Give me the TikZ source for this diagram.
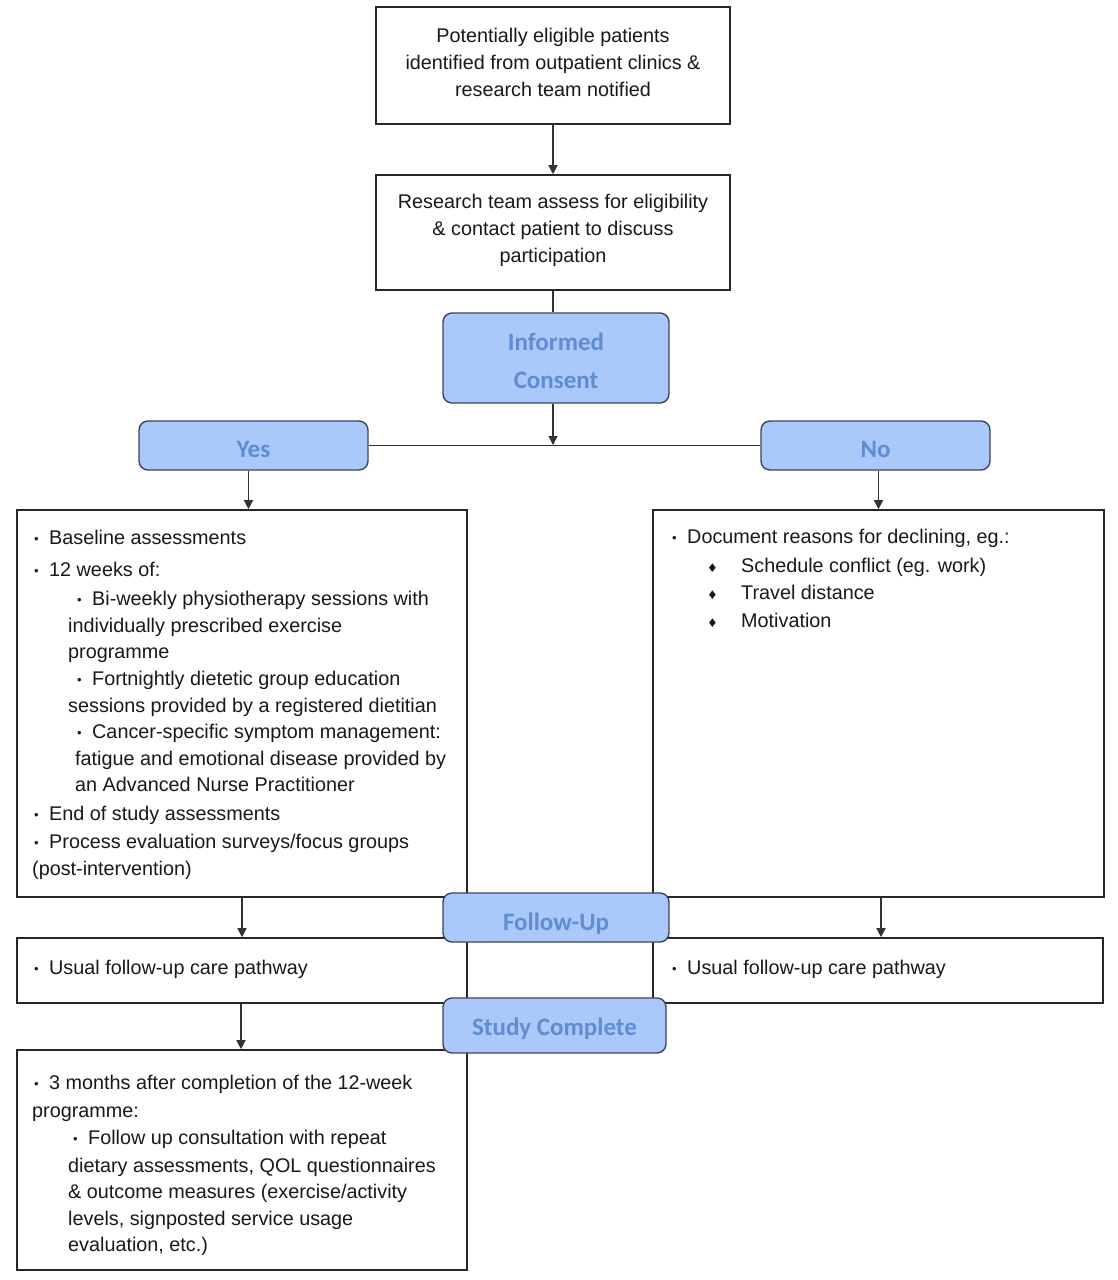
\documentclass[tikz,border=0pt]{standalone}
\usepackage{fontspec}
\setmainfont{Liberation Sans}
\newfontfamily\calfont{Carlito}
\newfontfamily\djfont{DejaVu Sans}
\usetikzlibrary{arrows.meta}
\definecolor{pillfill}{RGB}{170,200,250}
\definecolor{pilltext}{RGB}{95,140,210}
\definecolor{pillborder}{RGB}{60,70,90}
\definecolor{txtcol}{RGB}{25,25,25}
\newcommand\mybul{\makebox[15pt][l]{\fontsize{13}{13}\selectfont\raisebox{0.5pt}{•}}}
\newcommand\mydia{{\djfont\fontsize{12}{12}\selectfont ♦}}
\newcommand\pl[2][4pt]{\raisebox{-#1}[\height][\depth]{\begin{tabular}{@{}c@{}}#2\end{tabular}}}
\begin{document}
\begin{tikzpicture}[x=1pt,y=-1pt,
 box/.style={draw=black!85, line width=1.6pt, inner sep=0, fill=white},
 pill/.style={draw=pillborder, line width=1.4pt, fill=pillfill, rounded corners=9pt, inner sep=0, text=pilltext, font=\calfont\bfseries\fontsize{25}{38}\selectfont},
 txt/.style={anchor=base west, inner sep=0, font=\fontsize{19.8}{27}\selectfont, text=txtcol},
 ctxt/.style={inner sep=0, align=center, font=\fontsize{19.8}{27}\selectfont, text=txtcol},
 arr/.style={draw=black!80, line width=1.4pt, -{Triangle[width=9pt,length=9pt]}},
 ln/.style={draw=black!80, line width=1.4pt},
]
\path[use as bounding box, fill=white] (0,0) rectangle (1117,1280);

% boxes
\node[box, minimum width=354pt, minimum height=117pt] (b1) at (553,65.5) {};
\node[box, minimum width=354pt, minimum height=115pt] (b2) at (553,232.5) {};
\node[box, minimum width=450pt, minimum height=387pt] (left) at (242,703.5) {};
\node[box, minimum width=451pt, minimum height=387pt] (right) at (878.5,703.5) {};
\node[box, minimum width=450pt, minimum height=65pt] (uleft) at (242,970.5) {};
\node[box, minimum width=450pt, minimum height=65pt] (uright) at (878,970.5) {};
\node[box, minimum width=450pt, minimum height=220pt] (bottom) at (242,1160) {};

% pills
\node[pill, minimum width=226pt, minimum height=90pt] (ic) at (556,358) {\pl{Informed\\Consent}};
\node[pill, minimum width=229pt, minimum height=49pt] (yes) at (253.5,445.5) {\pl{Yes}};
\node[pill, minimum width=229pt, minimum height=49pt] (no) at (875.5,445.5) {\pl{No}};
\node[pill, minimum width=226pt, minimum height=49pt] (fu) at (556,917.5) {\pl[5pt]{Follow-Up}};
\node[pill, minimum width=223pt, minimum height=55pt] (sc) at (554.5,1025.5) {\pl[2.5pt]{Study Complete}};

% connectors
\coordinate (join) at (553,445);
\draw[arr] (b1.south) -- (b2.north);
\draw[ln] (b2.south) -- (b2.south |- ic.north);
\draw[arr] (ic.south -| b2.south) -- (join);
\draw[ln] (yes.east) -- (no.west);
\draw[arr] ([xshift=-5pt]yes.south) -- ([xshift=-5pt]yes.south |- left.north);
\draw[arr] ([xshift=3pt]no.south) -- ([xshift=3pt]no.south |- right.north);
\draw[arr] (left.south) -- (uleft.north);
\draw[arr] ([xshift=2.5pt]right.south) -- ([xshift=2.5pt]right.south |- uright.north);
\draw[arr] ([xshift=-1pt]uleft.south) -- ([xshift=-1pt]uleft.south |- bottom.north);

% texts
\node[ctxt] (t1) at (553,62) {Potentially eligible patients\\identified from outpatient clinics \&\\research team notified};
\node[ctxt] (t2) at (553,230) {Research team assess for eligibility\\\& contact patient to discuss\\participation};

\node[txt] (l1) at (34,544) {\mybul Baseline assessments};
\node[txt] (l2) at (34,576) {\mybul 12 weeks of:};
\node[txt] (l3) at (77,605) {\mybul Bi-weekly physiotherapy sessions with};
\node[txt] (l4) at (68,632) {individually prescribed exercise};
\node[txt] (l5) at (68,658) {programme};
\node[txt] (l6) at (77,685) {\mybul Fortnightly dietetic group education};
\node[txt] (l7) at (68,712) {sessions provided by a registered dietitian};
\node[txt] (l8) at (77,738) {\mybul Cancer-specific symptom management:};
\node[txt] (l9) at (75,765) {fatigue and emotional disease provided by};
\node[txt] (l10) at (75,791) {an Advanced Nurse Practitioner};
\node[txt] (l11) at (34,820) {\mybul End of study assessments};
\node[txt] (l12) at (34,848) {\mybul Process evaluation surveys/focus groups};
\node[txt] (l13) at (32,875) {(post-intervention)};

\node[txt] (r1) at (672,543) {\mybul Document reasons for declining, eg.:};
\node[txt] (d1) at (707,572) {\mydia};
\node[txt] (r2) at (741,572) {Schedule conflict (eg. work)};
\node[txt] (d2) at (707,599) {\mydia};
\node[txt] (r3) at (741,599) {Travel distance};
\node[txt] (d3) at (707,627) {\mydia};
\node[txt] (r4) at (741,627) {Motivation};

\node[txt] (u1) at (34,974) {\mybul Usual follow-up care pathway};
\node[txt] (u2) at (672,974) {\mybul Usual follow-up care pathway};

\node[txt] (m1) at (34,1089) {\mybul 3 months after completion of the 12-week};
\node[txt] (m2) at (32,1117) {programme:};
\node[txt] (m3) at (73,1144) {\mybul Follow up consultation with repeat};
\node[txt] (m4) at (68,1172) {dietary assessments, QOL questionnaires};
\node[txt] (m5) at (68,1198) {\& outcome measures (exercise/activity};
\node[txt] (m6) at (68,1225) {levels, signposted service usage};
\node[txt] (m7) at (68,1251) {evaluation, etc.)};
\end{tikzpicture}
\end{document}
